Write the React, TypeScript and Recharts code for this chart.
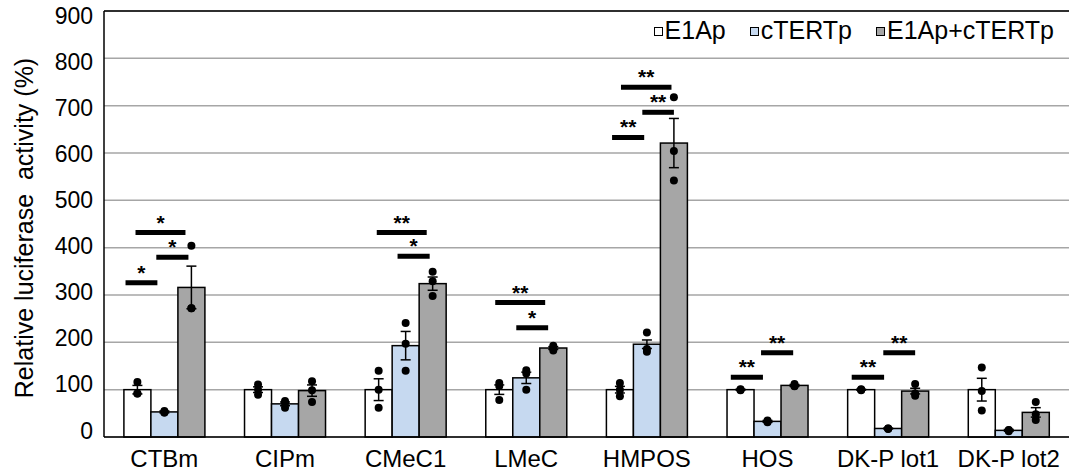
import React from "react";
import { ComposedChart, Bar, XAxis, YAxis, CartesianGrid, ErrorBar, Legend, ReferenceLine } from "recharts";

const categories = ["CTBm", "CIPm", "CMeC1", "LMeC", "HMPOS", "HOS", "DK-P lot1", "DK-P lot2"];
const seriesNames = ["E1Ap", "cTERTp", "E1Ap+cTERTp"];
const yTicks = [0, 100, 200, 300, 400, 500, 600, 700, 800, 900];

const e1Ap = [100, 100, 100, 100, 100, 100, 100, 100];
const cTERTp = [53, 70, 193, 125, 196, 33, 18, 14];
const combined = [316, 98, 324, 188, 621, 109, 97, 52];

const e1ApErr = [9, 6, 23, 10, 7, 1, 1, 24];
const cTERTpErr = [2, 4, 30, 12, 9, 2, 1, 2];
const combinedErr = [45, 12, 14, 3, 52, 2, 6, 10];

// individual replicates (n = 3)
const e1ApDots = [[116, 92, 92], [111, 100, 89], [140, 100, 62], [114, 108, 78], [114, 100, 86], [101, 100, 99], [101, 100, 99], [147, 97, 56]];
const cTERTpDots = [[55, 52, 52], [76, 72, 62], [241, 197, 140], [141, 134, 100], [221, 186, 180], [35, 33, 31], [18, 18, 17], [15, 14, 12]];
const combinedDots = [[404, 272, 272], [118, 99, 74], [349, 329, 298], [193, 188, 183], [718, 604, 542], [112, 108, 107], [112, 92, 87], [74, 48, 36]];

// significance brackets
const sigCategory = ["CTBm", "CTBm", "CTBm", "CMeC1", "CMeC1", "LMeC", "LMeC", "HMPOS", "HMPOS", "HMPOS", "HOS", "HOS", "DK-P lot1", "DK-P lot1"];
const sigLevel = [326, 380, 432, 432, 382, 284, 231, 633, 686, 739, 126, 178, 126, 178];
const sigMark = ["*", "*", "*", "**", "*", "**", "*", "**", "**", "**", "**", "**", "**", "**"];
// span in bar slots (0 = E1Ap, 1 = cTERTp, 2 = E1Ap+cTERTp)
const sigFrom = [-0.44, 0.7, -0.07, -0.07, 0.7, -0.15, 0.63, -0.29, 0.83, 0.04, -0.36, 0.76, -0.35, 0.82];
const sigTo = [0.74, 1.89, 1.78, 1.78, 1.89, 1.7, 1.81, 0.9, 2.0, 1.91, 0.83, 1.95, 0.85, 2.0];

const data = categories.map((name, i) => ({
  name,
  e1Ap: e1Ap[i],
  cTERTp: cTERTp[i],
  combined: combined[i],
  e1ApErr: e1ApErr[i],
  cTERTpErr: cTERTpErr[i],
  combinedErr: combinedErr[i],
  e1ApDots: e1ApDots[i],
  cTERTpDots: cTERTpDots[i],
  combinedDots: combinedDots[i],
}));

const FONT = "'Liberation Sans', Arial, sans-serif";

const makeShape = (dataKey: string, fill: string, withSig: boolean) => (props: any) => {
  const { x, y, width, height, payload } = props;
  const v = payload[dataKey];
  const base = y + height;
  const k = height / v;
  const py = (val: number) => base - val * k;
  const cx = x + width / 2;
  const slot = (s: number) => cx + (s - 2) * width;
  return (
    <g>
      <rect x={x} y={y} width={width} height={height} fill={fill} stroke="#000" strokeWidth={1.5} />
      {payload[dataKey + "Dots"].map((d: number, j: number) => (
        <circle key={j} cx={cx} cy={py(d)} r={4} fill="#000" />
      ))}
      {withSig &&
        sigCategory.map((c, i) => {
          if (c !== payload.name) return null;
          const x1 = slot(sigFrom[i]);
          const x2 = slot(sigTo[i]);
          const ly = py(sigLevel[i]);
          return (
            <g key={"s" + i}>
              <line x1={x1} x2={x2} y1={ly} y2={ly} stroke="#000" strokeWidth={5} />
              <text x={(x1 + x2) / 2} y={ly - 3} textAnchor="middle" fontFamily={FONT} fontWeight="bold" fontSize={21} fill="#000">
                {sigMark[i]}
              </text>
            </g>
          );
        })}
    </g>
  );
};

// excel-style tick labels: slightly pulled toward the middle of the axis
const YTick = (props: any) => {
  const { x, y, payload } = props;
  const shift = 5 - 11.5 * (1 - payload.value / 900);
  return (
    <text x={x} y={y + shift} textAnchor="end" dominantBaseline="central" fontFamily={FONT} fontSize={23} fill="#000">
      {payload.value}
    </text>
  );
};

const renderLegend = (props: any) => {
  const items = [...(props.payload || [])].sort((a: any, b: any) => seriesNames.indexOf(a.value) - seriesNames.indexOf(b.value));
  return (
    <div style={{ display: "flex", justifyContent: "flex-end", fontFamily: FONT, fontSize: 25, color: "#000", lineHeight: "30px" }}>
      {items.map((p: any, i: number) => (
        <div key={i} style={{ display: "flex", alignItems: "center", marginLeft: i === 0 ? 0 : 24 }}>
          <span style={{ width: 7, height: 7, border: "1px solid #000", background: p.color, marginRight: 2, marginTop: 3 }} />
          <span>{p.value}</span>
        </div>
      ))}
    </div>
  );
};

const YLabel = (props: any) => {
  const { viewBox } = props;
  const cx = viewBox.x + 24;
  const cy = viewBox.y + viewBox.height / 2 + 4;
  return (
    <text x={cx} y={cy} transform={`rotate(-90, ${cx}, ${cy})`} textAnchor="middle" dominantBaseline="central" fontFamily={FONT} fontSize={25} fill="#000" style={{ whiteSpace: "pre" }}>
      {"Relative luciferase  activity (%)"}
    </text>
  );
};

export default function App() {
  return (
    <div style={{ position: "absolute", left: 0, top: 0, width: 1069, height: 475, background: "#fff" }}>
      <ComposedChart width={1069} height={475} data={data} margin={{ top: 11, right: 0, bottom: 0, left: 0 }} barCategoryGap="16.5%" barGap={0}>
        <CartesianGrid vertical={false} stroke="#a6a6a6" strokeWidth={1.5} />
        <ReferenceLine y={900} stroke="#000" strokeWidth={1.5} />
        <XAxis
          dataKey="name"
          height={38}
          interval={0}
          tickLine={false}
          axisLine={{ stroke: "#000", strokeWidth: 1.5 }}
          tick={{ fontSize: 24, fill: "#000", fontFamily: FONT }}
          tickMargin={7}
        />
        <YAxis
          width={104}
          domain={[0, 900]}
          ticks={yTicks}
          interval={0}
          tickLine={false}
          axisLine={{ stroke: "#000", strokeWidth: 1.5 }}
          tick={<YTick />}
          tickMargin={5}
          label={<YLabel />}
        />
        <Legend
          verticalAlign="middle"
          align="center"
          content={renderLegend}
          wrapperStyle={{ top: 15, left: 600, width: 454, height: 30 }}
        />
        <Bar dataKey="e1Ap" name="E1Ap" fill="#ffffff" isAnimationActive={false} shape={makeShape("e1Ap", "#ffffff", false)}>
          <ErrorBar dataKey="e1ApErr" width={5} stroke="#000" strokeWidth={1.5} direction="y" />
        </Bar>
        <Bar dataKey="cTERTp" name="cTERTp" fill="#c6d9f0" isAnimationActive={false} shape={makeShape("cTERTp", "#c6d9f0", false)}>
          <ErrorBar dataKey="cTERTpErr" width={5} stroke="#000" strokeWidth={1.5} direction="y" />
        </Bar>
        <Bar dataKey="combined" name="E1Ap+cTERTp" fill="#a6a6a6" isAnimationActive={false} shape={makeShape("combined", "#a6a6a6", true)}>
          <ErrorBar dataKey="combinedErr" width={5} stroke="#000" strokeWidth={1.5} direction="y" />
        </Bar>
      </ComposedChart>
    </div>
  );
}
